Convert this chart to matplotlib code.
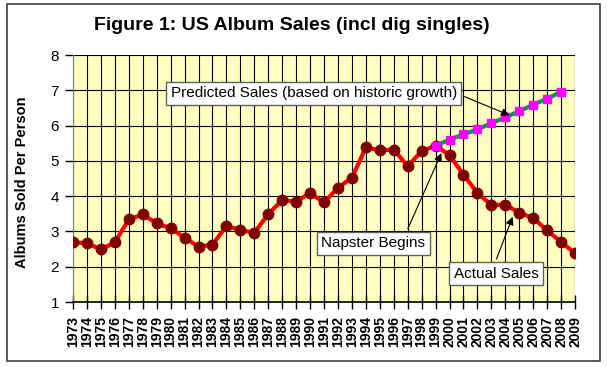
import matplotlib
matplotlib.use('Agg')
import matplotlib.pyplot as plt
from matplotlib.patches import Rectangle

plt.rcParams['font.family'] = ['Liberation Sans', 'DejaVu Sans']

years = list(range(1973, 2010))
actual_sales = [2.69, 2.67, 2.49, 2.69, 3.34, 3.48, 3.23, 3.09, 2.82, 2.57,
                2.62, 3.16, 3.04, 2.96, 3.49, 3.89, 3.84, 4.09, 3.82, 4.24,
                4.52, 5.38, 5.30, 5.32, 4.85, 5.27, 5.43, 5.16, 4.61, 4.09,
                3.75, 3.76, 3.53, 3.38, 3.03, 2.70, 2.38]
pred_years = list(range(1999, 2009))
predicted_sales = [5.43, 5.60, 5.75, 5.89, 6.07, 6.23, 6.41, 6.59, 6.76, 6.96]

title = 'Figure 1: US Album Sales (incl dig singles)'
y_label = 'Albums Sold Per Person'

fig = plt.figure(figsize=(6.08, 3.67), dpi=100)
ax = fig.add_axes([73 / 608, 1 - 302 / 367, (575 - 73) / 608, (302 - 55) / 367])
ax.set_facecolor('#FFFFC0')

# outer frame round the whole chart
fig.patches.append(Rectangle((7 / 608, 1 - 361 / 367), 593 / 608, 357 / 367,
                             transform=fig.transFigure, fill=False,
                             edgecolor='#404040', linewidth=1.2))

ax.plot(years, actual_sales, color='red', linewidth=3, marker='o',
        markersize=7.5, markerfacecolor='#800000', markeredgecolor='#800000', zorder=3)
ax.plot(pred_years, predicted_sales, color='#00935A', linewidth=3, marker='s',
        markersize=6, markerfacecolor='#FF00FF', markeredgecolor='#FF00FF', zorder=4)

ax.set_xlim(1973, 2009)
ax.set_ylim(1, 8)
ax.set_xticks(years)
ax.set_xticklabels([str(y) for y in years], rotation=90, fontsize=10, fontweight='bold')
ax.set_yticks(range(1, 9))
ax.tick_params(axis='y', labelsize=11, length=6, width=1, direction='out', pad=4)
ax.tick_params(axis='x', length=10, width=1, direction='inout', pad=5)
ax.grid(True, color='black', linewidth=0.8)
ax.set_axisbelow(True)
for side in ['top', 'right']:
    ax.spines[side].set_visible(False)
ax.spines['left'].set_color('#808080')
ax.spines['bottom'].set_linewidth(1.2)

fig.text(292 / 608, 1 - 25 / 367, title, ha='center', va='center',
         fontsize=14, fontweight='bold')
fig.text(22 / 608, 1 - 182 / 367, y_label, ha='center', va='center',
         rotation=90, fontsize=10.5, fontweight='bold')

box = dict(boxstyle='square,pad=0.3', facecolor='white', edgecolor='#606060', linewidth=1)
arrow = dict(arrowstyle='-|>', color='black', linewidth=0.8, mutation_scale=12)

ax.annotate('Predicted Sales (based on historic growth)', xy=(2004.5, 6.26),
            xytext=(1980.0, 6.91), fontsize=11, ha='left', va='center',
            bbox=box, arrowprops=dict(arrow, relpos=(1.0, 0.5)), zorder=5)
ax.annotate('Napster Begins', xy=(1999.5, 5.29), xytext=(1990.8, 2.66),
            fontsize=11, ha='left', va='center', bbox=box,
            arrowprops=dict(arrow, relpos=(0.8, 1.0)), zorder=5)
ax.annotate('Actual Sales', xy=(2004.6, 3.49), xytext=(2000.3, 1.8),
            fontsize=11, ha='left', va='center', bbox=box,
            arrowprops=dict(arrow, relpos=(0.47, 1.0)), zorder=5)

fig.savefig('out.png', dpi=100, facecolor='white')
